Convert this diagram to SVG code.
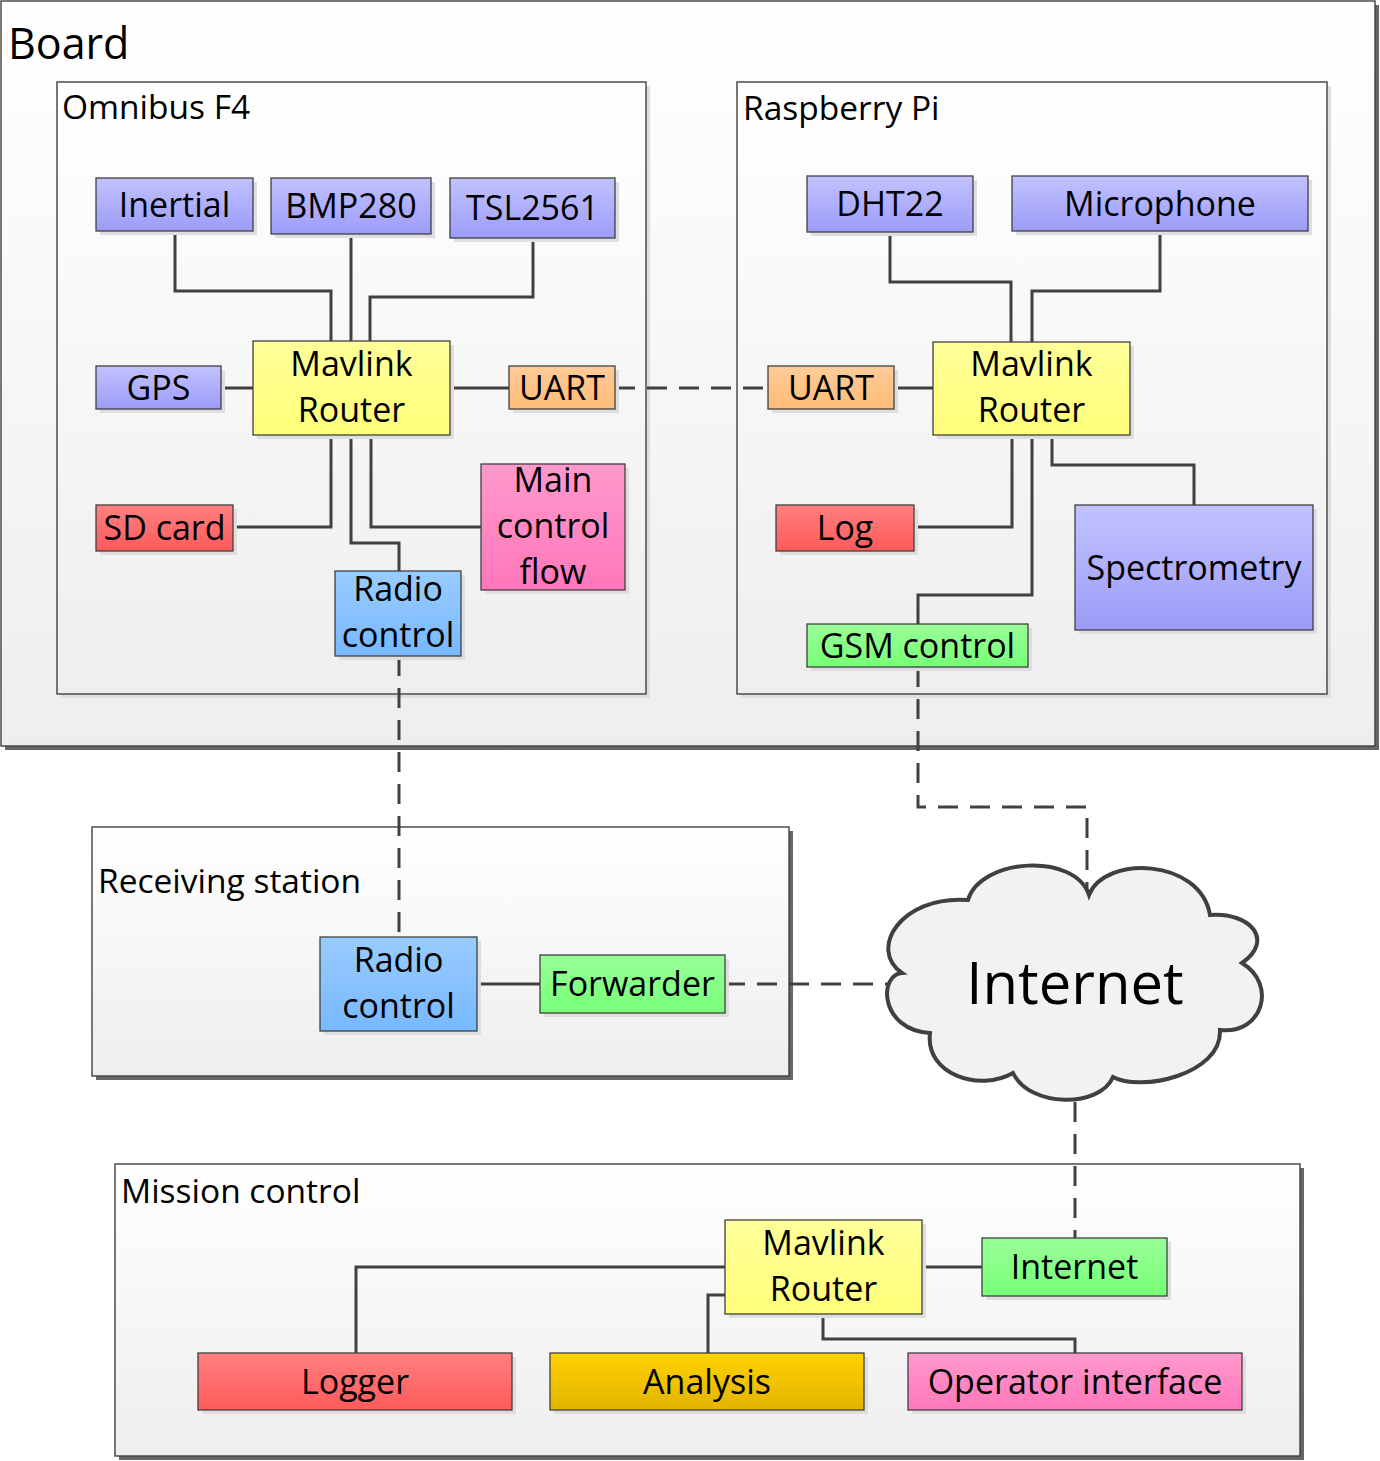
<svg xmlns="http://www.w3.org/2000/svg" width="1380" height="1461" viewBox="0 0 1380 1461">
<defs>
<linearGradient id="gCont" x1="0" y1="0" x2="0" y2="1"><stop offset="0" stop-color="#ffffff"/><stop offset="1" stop-color="#eeeeee"/></linearGradient>
<linearGradient id="gBlue" x1="0" y1="0" x2="0" y2="1"><stop offset="0" stop-color="#c2c2ff"/><stop offset="1" stop-color="#9c9cf9"/></linearGradient>
<linearGradient id="gYellow" x1="0" y1="0" x2="0" y2="1"><stop offset="0" stop-color="#ffff99"/><stop offset="1" stop-color="#ffff7a"/></linearGradient>
<linearGradient id="gOrange" x1="0" y1="0" x2="0" y2="1"><stop offset="0" stop-color="#ffcc99"/><stop offset="1" stop-color="#ffbb77"/></linearGradient>
<linearGradient id="gRed" x1="0" y1="0" x2="0" y2="1"><stop offset="0" stop-color="#ff8080"/><stop offset="1" stop-color="#ff5a5a"/></linearGradient>
<linearGradient id="gPink" x1="0" y1="0" x2="0" y2="1"><stop offset="0" stop-color="#ff99cc"/><stop offset="1" stop-color="#ff77bb"/></linearGradient>
<linearGradient id="gLBlue" x1="0" y1="0" x2="0" y2="1"><stop offset="0" stop-color="#99ccff"/><stop offset="1" stop-color="#77b8ff"/></linearGradient>
<linearGradient id="gGreen" x1="0" y1="0" x2="0" y2="1"><stop offset="0" stop-color="#99ff99"/><stop offset="1" stop-color="#77ff77"/></linearGradient>
<linearGradient id="gGold" x1="0" y1="0" x2="0" y2="1"><stop offset="0" stop-color="#ffd200"/><stop offset="1" stop-color="#e2b400"/></linearGradient>
<style>
text{font-family:"Open Sans","Liberation Sans",sans-serif;fill:#000}
.t{font-size:34px;text-anchor:middle}
.ct{font-size:33.5px}
.sh{fill:#dedede}
.osh{fill:#666666}
.n{stroke:#404040;stroke-width:1.3}
.c{fill:url(#gCont);stroke:#404040;stroke-width:1.4}
.ln{fill:none;stroke:#404040;stroke-width:3}
.dl{fill:none;stroke:#404040;stroke-width:3;stroke-dasharray:20 12}
</style>
</defs>

<g id="board">
<rect class="osh" x="5" y="5" width="1374" height="745"/>
<rect class="c" x="1" y="1" width="1374" height="745"/>
<text x="8" y="59" style="font-size:43px">Board</text>
</g>
<g id="omnibus">
<rect class="sh" x="61" y="86" width="589" height="612"/>
<rect class="c" x="57" y="82" width="589" height="612"/>
<text class="ct" x="62" y="119">Omnibus F4</text>
</g>
<g id="raspberry">
<rect class="sh" x="741" y="86" width="590" height="612"/>
<rect class="c" x="737" y="82" width="590" height="612"/>
<text class="ct" x="743" y="120">Raspberry Pi</text>
</g>
<g id="receiving">
<rect class="osh" x="96" y="831" width="697" height="249"/>
<rect class="c" x="92" y="827" width="697" height="249"/>
<text class="ct" x="98" y="893">Receiving station</text>
</g>
<g id="mission">
<rect class="osh" x="119" y="1168" width="1185" height="292"/>
<rect class="c" x="115" y="1164" width="1185" height="292"/>
<text class="ct" x="121" y="1203">Mission control</text>
</g>

<g id="connectors">
<path class="ln" d="M175 231 V291 H331 V341"/>
<path class="ln" d="M351 234 V341"/>
<path class="ln" d="M533 238 V297 H370 V341"/>
<path class="ln" d="M221 388 H253"/>
<path class="ln" d="M450 388 H509"/>
<path class="ln" d="M331 435 V527 H233"/>
<path class="ln" d="M351 435 V543 H399 V571"/>
<path class="ln" d="M371 435 V527 H481"/>
<path class="ln" d="M890 232 V282 H1011 V342"/>
<path class="ln" d="M1160 231 V291 H1032 V342"/>
<path class="ln" d="M894 388 H933"/>
<path class="ln" d="M1012 435 V527 H914"/>
<path class="ln" d="M1032 435 V595 H918 V624"/>
<path class="ln" d="M1052 435 V465 H1194 V505"/>
<path class="ln" d="M477 984 H540"/>
<path class="ln" d="M725 1267 H356 V1353"/>
<path class="ln" d="M725 1295 H708 V1353"/>
<path class="ln" d="M823 1314 V1339 H1075 V1353"/>
<path class="ln" d="M922 1267 H982"/>
<path class="dl" d="M615 388 H768"/>
<path class="dl" d="M399 656 V937"/>
<path class="dl" d="M918 667 V807 H1087 V895"/>
<path class="dl" d="M725 984 H889"/>
<path class="dl" d="M1075 1102 V1238"/>
</g>

<g id="cloud">
<path d="M968 900 C980 858 1075 852 1089 895 C1105 855 1200 858 1210 915 C1250 912 1275 940 1242 963 C1278 985 1262 1035 1220 1030 C1222 1075 1140 1092 1113 1077 C1100 1108 1030 1108 1013 1073 C980 1092 925 1075 930 1033 C880 1030 878 975 902 973 C868 950 900 895 968 900 Z" fill="#f2f2f2" stroke="#404040" stroke-width="4"/>
<text x="1075" y="1004" style="font-size:58px;text-anchor:middle">Internet</text>
</g>

<g id="inertial"><rect class="sh" x="100" y="182" width="157" height="53"/><rect class="n" fill="url(#gBlue)" x="96" y="178" width="157" height="53"/><text class="t" x="174.5" y="216.5">Inertial</text></g>
<g id="bmp280"><rect class="sh" x="275" y="182" width="160" height="56"/><rect class="n" fill="url(#gBlue)" x="271" y="178" width="160" height="56"/><text class="t" x="351" y="218">BMP280</text></g>
<g id="tsl2561"><rect class="sh" x="454" y="182" width="165" height="60"/><rect class="n" fill="url(#gBlue)" x="450" y="178" width="165" height="60"/><text class="t" x="532.5" y="220">TSL2561</text></g>
<g id="router1"><rect class="sh" x="257" y="345" width="197" height="94"/><rect class="n" fill="url(#gYellow)" x="253" y="341" width="197" height="94"/><text class="t" x="351.5" y="376">Mavlink</text><text class="t" x="351.5" y="422">Router</text></g>
<g id="gps"><rect class="sh" x="100" y="370" width="125" height="43"/><rect class="n" fill="url(#gBlue)" x="96" y="366" width="125" height="43"/><text class="t" x="158.5" y="400">GPS</text></g>
<g id="uart1"><rect class="sh" x="513" y="370" width="106" height="43"/><rect class="n" fill="url(#gOrange)" x="509" y="366" width="106" height="43"/><text class="t" x="562" y="400">UART</text></g>
<g id="sdcard"><rect class="sh" x="100" y="509" width="137" height="46"/><rect class="n" fill="url(#gRed)" x="96" y="505" width="137" height="46"/><text class="t" x="164.5" y="540">SD card</text></g>
<g id="maincontrol"><rect class="sh" x="485" y="468" width="144" height="126"/><rect class="n" fill="url(#gPink)" x="481" y="464" width="144" height="126"/><text class="t" x="553" y="492">Main</text><text class="t" x="553" y="538">control</text><text class="t" x="553" y="584">flow</text></g>
<g id="radio1"><rect class="sh" x="339" y="575" width="126" height="85"/><rect class="n" fill="url(#gLBlue)" x="335" y="571" width="126" height="85"/><text class="t" x="398" y="601">Radio</text><text class="t" x="398" y="647">control</text></g>

<g id="dht22"><rect class="sh" x="811" y="180" width="166" height="56"/><rect class="n" fill="url(#gBlue)" x="807" y="176" width="166" height="56"/><text class="t" x="890" y="216">DHT22</text></g>
<g id="microphone"><rect class="sh" x="1016" y="180" width="296" height="55"/><rect class="n" fill="url(#gBlue)" x="1012" y="176" width="296" height="55"/><text class="t" x="1160" y="215.5">Microphone</text></g>
<g id="router2"><rect class="sh" x="937" y="346" width="197" height="93"/><rect class="n" fill="url(#gYellow)" x="933" y="342" width="197" height="93"/><text class="t" x="1031.5" y="376">Mavlink</text><text class="t" x="1031.5" y="422">Router</text></g>
<g id="uart2"><rect class="sh" x="772" y="370" width="126" height="43"/><rect class="n" fill="url(#gOrange)" x="768" y="366" width="126" height="43"/><text class="t" x="831" y="400">UART</text></g>
<g id="log"><rect class="sh" x="780" y="509" width="138" height="46"/><rect class="n" fill="url(#gRed)" x="776" y="505" width="138" height="46"/><text class="t" x="845" y="540">Log</text></g>
<g id="spectrometry"><rect class="sh" x="1079" y="509" width="238" height="125"/><rect class="n" fill="url(#gBlue)" x="1075" y="505" width="238" height="125"/><text class="t" x="1194" y="579.5">Spectrometry</text></g>
<g id="gsm"><rect class="sh" x="811" y="628" width="221" height="43"/><rect class="n" fill="url(#gGreen)" x="807" y="624" width="221" height="43"/><text class="t" x="917.5" y="657.5">GSM control</text></g>

<g id="radio2"><rect class="sh" x="324" y="941" width="157" height="94"/><rect class="n" fill="url(#gLBlue)" x="320" y="937" width="157" height="94"/><text class="t" x="398.5" y="972">Radio</text><text class="t" x="398.5" y="1018">control</text></g>
<g id="forwarder"><rect class="sh" x="544" y="959" width="185" height="58"/><rect class="n" fill="url(#gGreen)" x="540" y="955" width="185" height="58"/><text class="t" x="632.5" y="996">Forwarder</text></g>

<g id="router3"><rect class="sh" x="729" y="1224" width="197" height="94"/><rect class="n" fill="url(#gYellow)" x="725" y="1220" width="197" height="94"/><text class="t" x="823.5" y="1255">Mavlink</text><text class="t" x="823.5" y="1301">Router</text></g>
<g id="internetnode"><rect class="sh" x="986" y="1242" width="185" height="58"/><rect class="n" fill="url(#gGreen)" x="982" y="1238" width="185" height="58"/><text class="t" x="1074.5" y="1279">Internet</text></g>
<g id="logger"><rect class="sh" x="202" y="1357" width="314" height="57"/><rect class="n" fill="url(#gRed)" x="198" y="1353" width="314" height="57"/><text class="t" x="355" y="1393.5">Logger</text></g>
<g id="analysis"><rect class="sh" x="554" y="1357" width="314" height="57"/><rect class="n" fill="url(#gGold)" x="550" y="1353" width="314" height="57"/><text class="t" x="707" y="1393.5">Analysis</text></g>
<g id="operator"><rect class="sh" x="912" y="1357" width="334" height="57"/><rect class="n" fill="url(#gPink)" x="908" y="1353" width="334" height="57"/><text class="t" x="1075" y="1393.5">Operator interface</text></g>
</svg>
